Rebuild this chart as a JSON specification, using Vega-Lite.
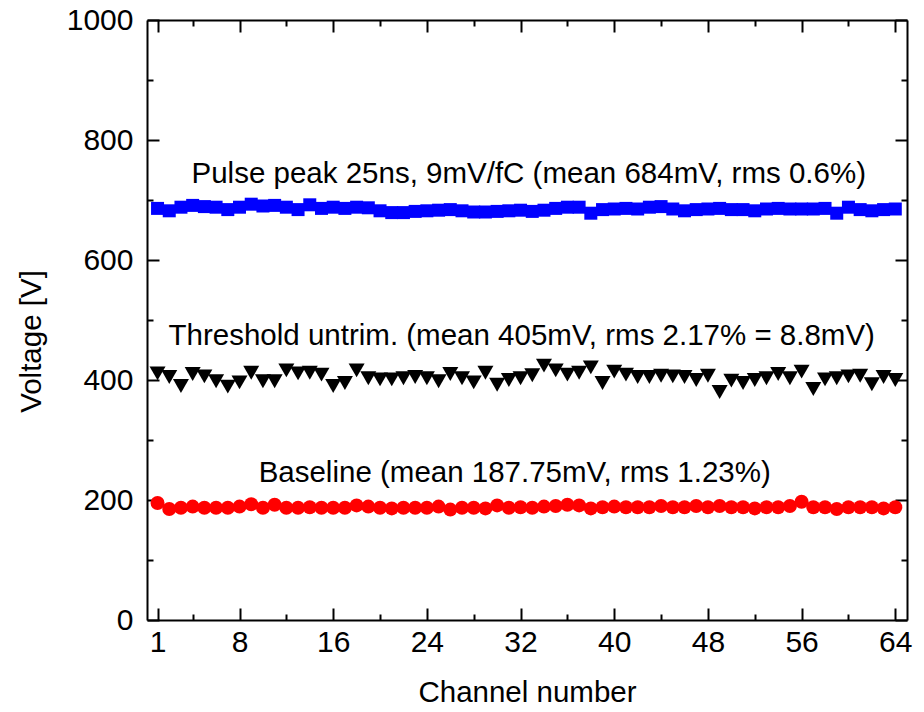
{
  "$schema": "https://vega.github.io/schema/vega-lite/v6.json",
  "width": 760,
  "height": 600,
  "autosize": {"type": "none"},
  "padding": {"left": 147, "top": 20, "right": 17, "bottom": 92},
  "background": "white",
  "config": {"view": {"stroke": null}, "font": "Liberation Sans"},
  "datasets": {
    "pulse": [
      {"ch":1,"v":686},{"ch":2,"v":682},{"ch":3,"v":688},{"ch":4,"v":691},{"ch":5,"v":689},{"ch":6,"v":688},{"ch":7,"v":684},{"ch":8,"v":688},
      {"ch":9,"v":693},{"ch":10,"v":690},{"ch":11,"v":691},{"ch":12,"v":688},{"ch":13,"v":684},{"ch":14,"v":692},{"ch":15,"v":686},{"ch":16,"v":688},
      {"ch":17,"v":686},{"ch":18,"v":688},{"ch":19,"v":687},{"ch":20,"v":682},{"ch":21,"v":679},{"ch":22,"v":679},{"ch":23,"v":681},{"ch":24,"v":682},
      {"ch":25,"v":683},{"ch":26,"v":684},{"ch":27,"v":682},{"ch":28,"v":680},{"ch":29,"v":680},{"ch":30,"v":681},{"ch":31,"v":682},{"ch":32,"v":683},
      {"ch":33,"v":681},{"ch":34,"v":683},{"ch":35,"v":686},{"ch":36,"v":688},{"ch":37,"v":688},{"ch":38,"v":678},{"ch":39,"v":684},{"ch":40,"v":685},
      {"ch":41,"v":686},{"ch":42,"v":685},{"ch":43,"v":688},{"ch":44,"v":689},{"ch":45,"v":685},{"ch":46,"v":682},{"ch":47,"v":684},{"ch":48,"v":685},
      {"ch":49,"v":686},{"ch":50,"v":684},{"ch":51,"v":684},{"ch":52,"v":682},{"ch":53,"v":685},{"ch":54,"v":686},{"ch":55,"v":685},{"ch":56,"v":685},
      {"ch":57,"v":685},{"ch":58,"v":686},{"ch":59,"v":678},{"ch":60,"v":688},{"ch":61,"v":684},{"ch":62,"v":682},{"ch":63,"v":684},{"ch":64,"v":685}
    ],
    "thr": [
      {"ch":1,"v":411},{"ch":2,"v":405},{"ch":3,"v":390},{"ch":4,"v":410},{"ch":5,"v":406},{"ch":6,"v":398},{"ch":7,"v":389},{"ch":8,"v":396},
      {"ch":9,"v":412},{"ch":10,"v":398},{"ch":11,"v":398},{"ch":12,"v":416},{"ch":13,"v":411},{"ch":14,"v":412},{"ch":15,"v":409},{"ch":16,"v":390},
      {"ch":17,"v":395},{"ch":18,"v":416},{"ch":19,"v":403},{"ch":20,"v":401},{"ch":21,"v":401},{"ch":22,"v":403},{"ch":23,"v":405},{"ch":24,"v":403},
      {"ch":25,"v":398},{"ch":26,"v":410},{"ch":27,"v":403},{"ch":28,"v":396},{"ch":29,"v":412},{"ch":30,"v":392},{"ch":31,"v":400},{"ch":32,"v":403},
      {"ch":33,"v":408},{"ch":34,"v":424},{"ch":35,"v":416},{"ch":36,"v":409},{"ch":37,"v":412},{"ch":38,"v":421},{"ch":39,"v":395},{"ch":40,"v":414},
      {"ch":41,"v":409},{"ch":42,"v":405},{"ch":43,"v":405},{"ch":44,"v":407},{"ch":45,"v":406},{"ch":46,"v":405},{"ch":47,"v":400},{"ch":48,"v":407},
      {"ch":49,"v":380},{"ch":50,"v":399},{"ch":51,"v":395},{"ch":52,"v":400},{"ch":53,"v":403},{"ch":54,"v":410},{"ch":55,"v":403},{"ch":56,"v":414},
      {"ch":57,"v":385},{"ch":58,"v":401},{"ch":59,"v":403},{"ch":60,"v":406},{"ch":61,"v":407},{"ch":62,"v":393},{"ch":63,"v":405},{"ch":64,"v":400}
    ],
    "base": [
      {"ch":1,"v":195},{"ch":2,"v":185},{"ch":3,"v":187},{"ch":4,"v":189},{"ch":5,"v":187},{"ch":6,"v":187},{"ch":7,"v":187},{"ch":8,"v":189},
      {"ch":9,"v":193},{"ch":10,"v":187},{"ch":11,"v":192},{"ch":12,"v":187},{"ch":13,"v":187},{"ch":14,"v":188},{"ch":15,"v":187},{"ch":16,"v":187},
      {"ch":17,"v":187},{"ch":18,"v":191},{"ch":19,"v":189},{"ch":20,"v":187},{"ch":21,"v":186},{"ch":22,"v":187},{"ch":23,"v":187},{"ch":24,"v":187},
      {"ch":25,"v":189},{"ch":26,"v":184},{"ch":27,"v":187},{"ch":28,"v":187},{"ch":29,"v":186},{"ch":30,"v":191},{"ch":31,"v":187},{"ch":32,"v":188},
      {"ch":33,"v":187},{"ch":34,"v":189},{"ch":35,"v":190},{"ch":36,"v":192},{"ch":37,"v":191},{"ch":38,"v":186},{"ch":39,"v":188},{"ch":40,"v":189},
      {"ch":41,"v":188},{"ch":42,"v":188},{"ch":43,"v":188},{"ch":44,"v":190},{"ch":45,"v":188},{"ch":46,"v":188},{"ch":47,"v":190},{"ch":48,"v":188},
      {"ch":49,"v":190},{"ch":50,"v":188},{"ch":51,"v":188},{"ch":52,"v":186},{"ch":53,"v":188},{"ch":54,"v":188},{"ch":55,"v":190},{"ch":56,"v":197},
      {"ch":57,"v":188},{"ch":58,"v":188},{"ch":59,"v":185},{"ch":60,"v":188},{"ch":61,"v":188},{"ch":62,"v":188},{"ch":63,"v":186},{"ch":64,"v":188}
    ],
    "notes": [
      {"x":32.7,"y":728,"t":"Pulse peak 25ns, 9mV/fC (mean 684mV, rms 0.6%)"},
      {"x":32.1,"y":458,"t":"Threshold untrim. (mean 405mV, rms 2.17% = 8.8mV)"},
      {"x":31.5,"y":230,"t":"Baseline (mean 187.75mV, rms 1.23%)"}
    ]
  },
  "layer": [
    {
      "data": {"name": "pulse"},
      "mark": {"type": "point", "shape": "square", "filled": true, "size": 169, "color": "#0000ff", "opacity": 1},
      "encoding": {
        "x": {"field": "ch", "type": "quantitative", "scale": {"domain": [0.1, 65], "nice": false, "zero": false},
          "axis": {"orient": "bottom", "values": [1,4,8,12,16,20,24,28,32,36,40,44,48,52,56,60,64],
            "labelExpr": "(datum.value % 8 == 0 || datum.value == 1) ? datum.label : ''",
            "tickSize": {"condition": {"test": "datum.value % 8 == 0 || datum.value == 1", "value": -12}, "value": -6},
            "tickWidth": 2, "tickColor": "black", "domainColor": "black", "domainWidth": 2, "grid": false,
            "labelFont": "Liberation Sans", "labelFontSize": 30, "labelColor": "black", "labelPadding": 19, "labelFlush": false,
            "title": "Channel number", "titleFont": "Liberation Sans", "titleFontSize": 29.5, "titleFontWeight": "normal", "titleColor": "black", "titlePadding": 21}},
        "y": {"field": "v", "type": "quantitative", "scale": {"domain": [0, 1000], "nice": false},
          "axis": {"orient": "left", "values": [0,100,200,300,400,500,600,700,800,900,1000],
            "labelExpr": "datum.value % 200 == 0 ? datum.label : ''", "format": "d",
            "tickSize": {"condition": {"test": "datum.value % 200 == 0", "value": -12}, "value": -6},
            "tickWidth": 2, "tickColor": "black", "domainColor": "black", "domainWidth": 2, "grid": false,
            "labelFont": "Liberation Sans", "labelFontSize": 30, "labelColor": "black", "labelPadding": 26, "labelFlush": false,
            "title": "Voltage [V]", "titleFont": "Liberation Sans", "titleFontSize": 29.5, "titleFontWeight": "normal", "titleColor": "black",
            "titleX": -101, "titleY": 321}}
      }
    },
    {
      "data": {"name": "thr"},
      "mark": {"type": "point", "shape": "triangle-down", "filled": true, "size": 256, "color": "black", "opacity": 1},
      "encoding": {
        "x": {"field": "ch", "type": "quantitative",
          "axis": {"orient": "top", "values": [1,4,8,12,16,20,24,28,32,36,40,44,48,52,56,60,64], "labels": false, "title": null,
            "tickSize": {"condition": {"test": "datum.value % 8 == 0 || datum.value == 1", "value": -12}, "value": -6},
            "tickWidth": 2, "tickColor": "black", "domainColor": "black", "domainWidth": 2, "grid": false}},
        "y": {"field": "v", "type": "quantitative",
          "axis": {"orient": "right", "values": [0,100,200,300,400,500,600,700,800,900,1000], "labels": false, "title": null,
            "tickSize": {"condition": {"test": "datum.value % 200 == 0", "value": -12}, "value": -6},
            "tickWidth": 2, "tickColor": "black", "domainColor": "black", "domainWidth": 2, "grid": false}}
      }
    },
    {
      "data": {"name": "base"},
      "mark": {"type": "point", "shape": "circle", "filled": true, "size": 196, "color": "#ff0000", "opacity": 1},
      "encoding": {
        "x": {"field": "ch", "type": "quantitative", "axis": null},
        "y": {"field": "v", "type": "quantitative", "axis": null}
      }
    },
    {
      "data": {"name": "notes"},
      "mark": {"type": "text", "font": "Liberation Sans", "fontSize": 29.5, "color": "black", "align": "center", "baseline": "alphabetic"},
      "encoding": {
        "x": {"field": "x", "type": "quantitative", "axis": null},
        "y": {"field": "y", "type": "quantitative", "axis": null},
        "text": {"field": "t"}
      }
    }
  ],
  "resolve": {"axis": {"x": "independent", "y": "independent"}}
}
